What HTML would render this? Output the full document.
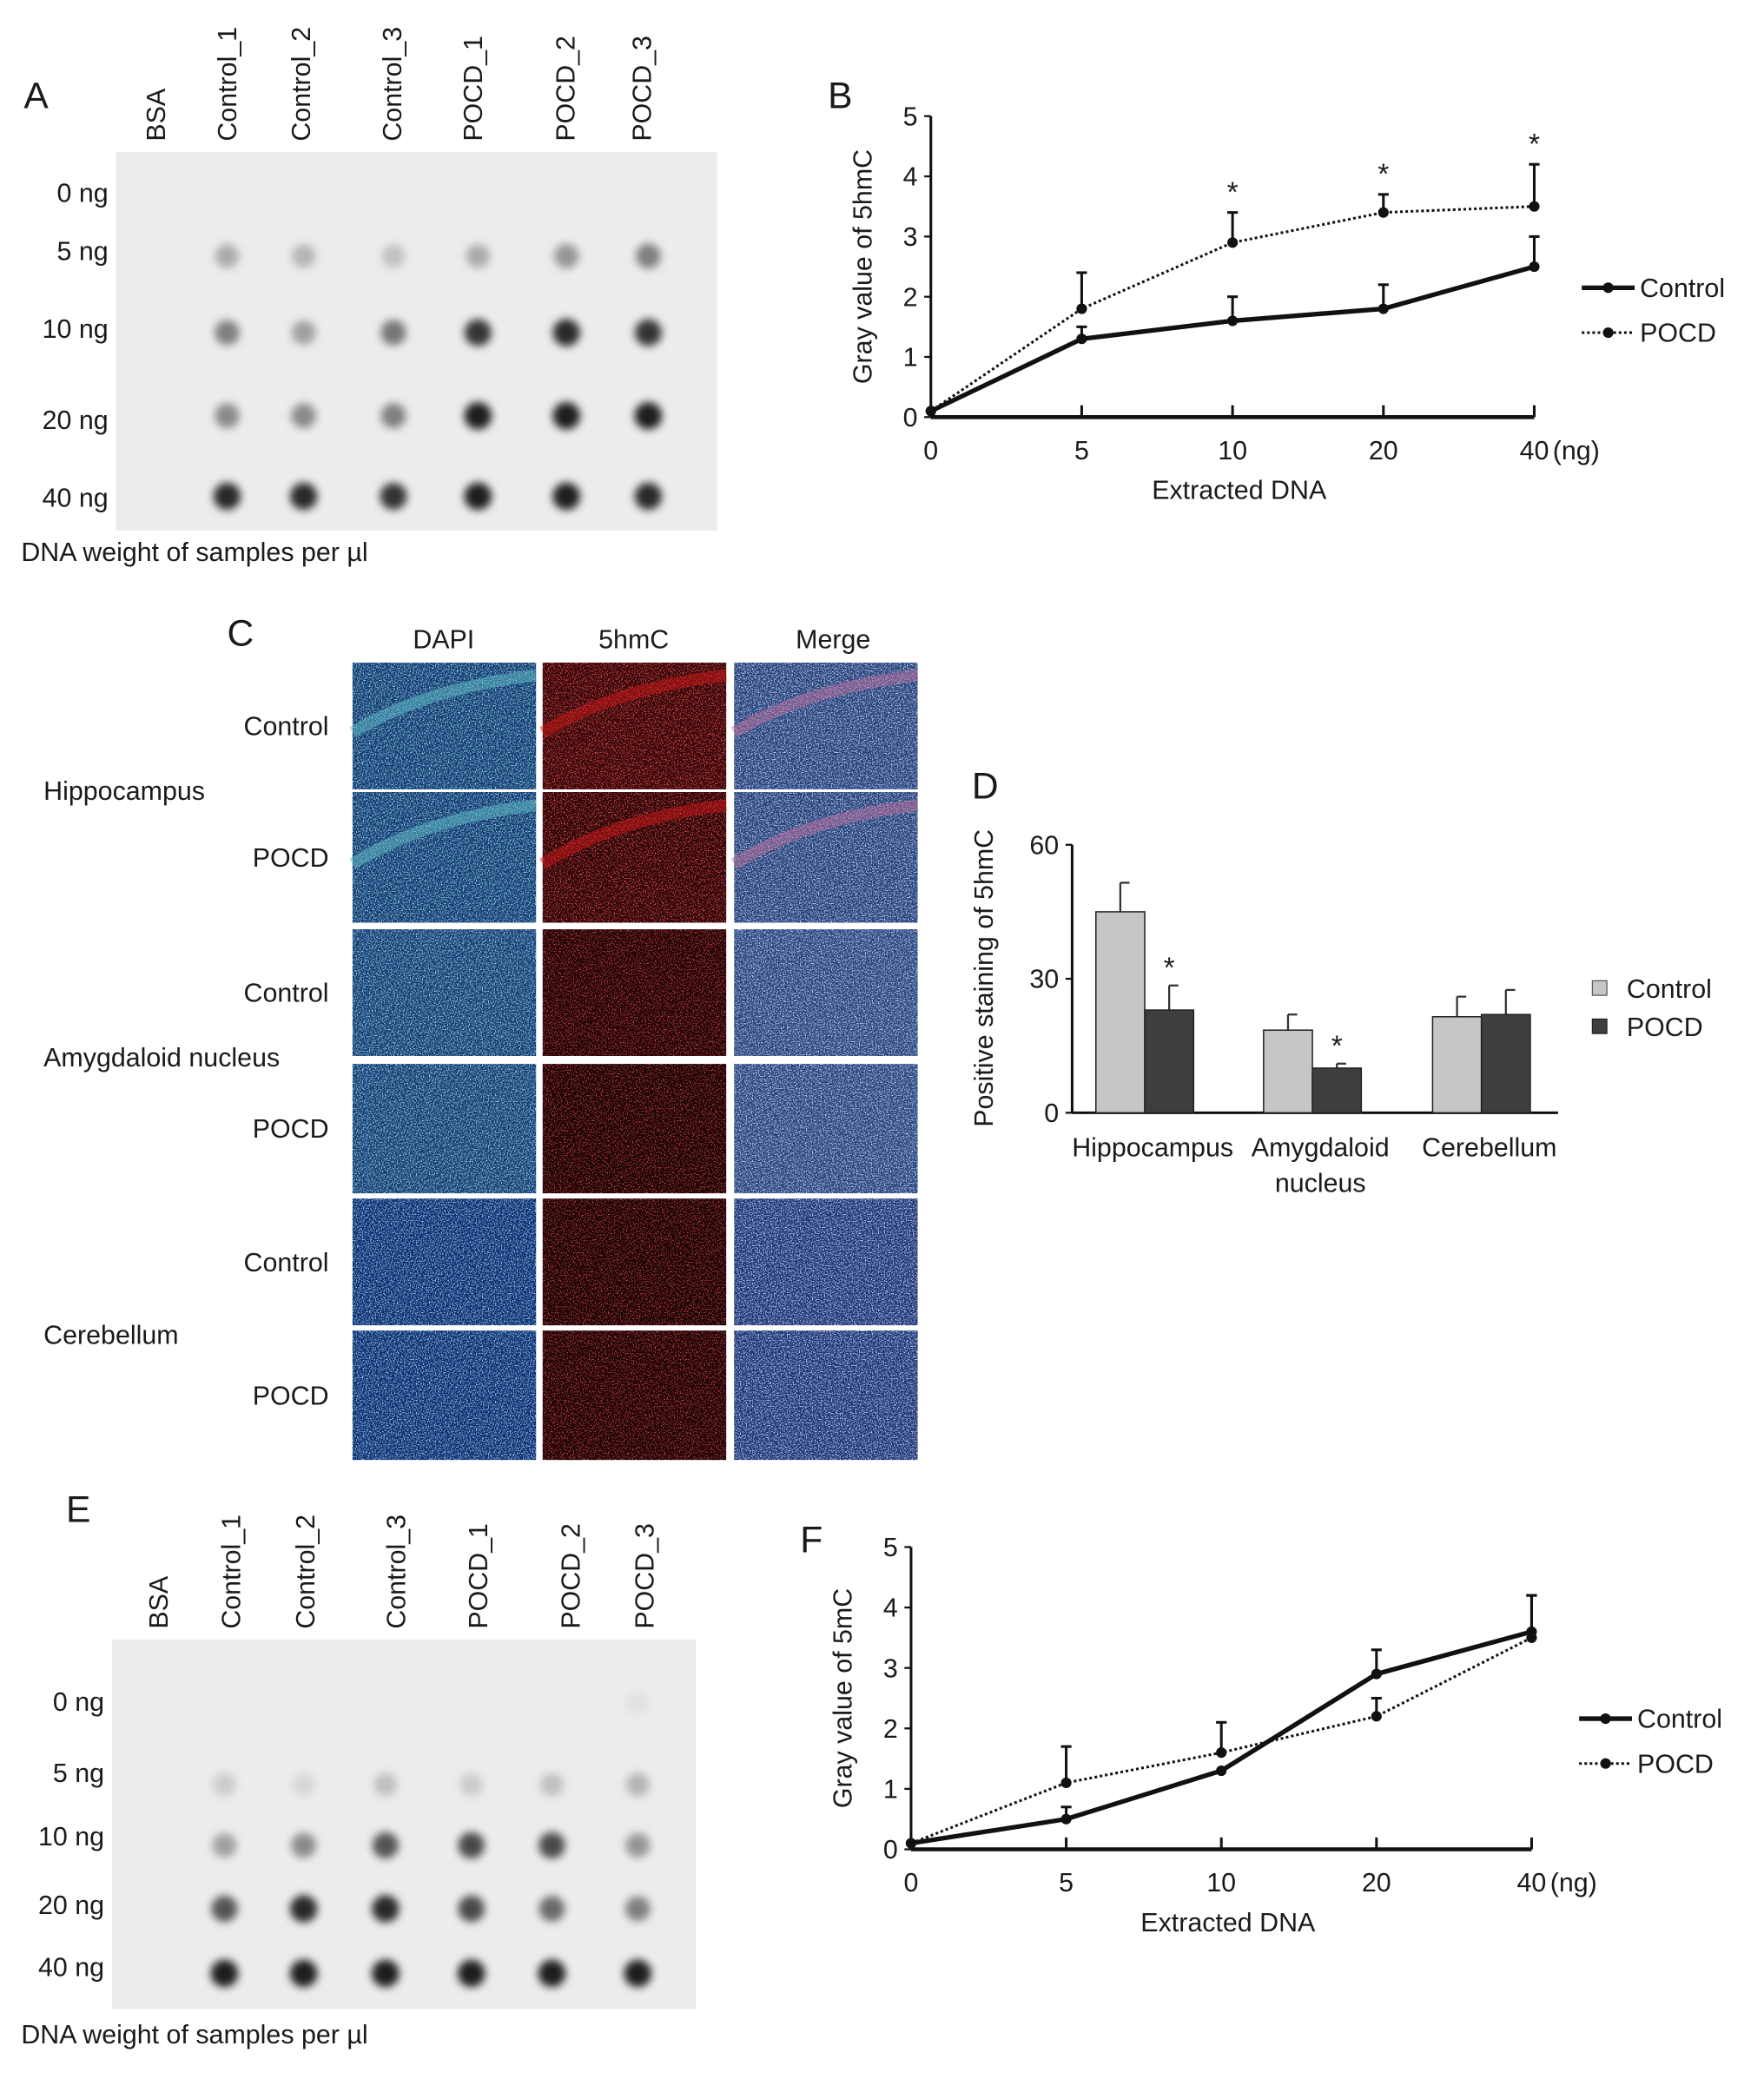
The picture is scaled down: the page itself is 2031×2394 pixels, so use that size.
<!DOCTYPE html>
<html><head><meta charset="utf-8"><style>
html,body{margin:0;padding:0;background:#fff;}
svg{display:block;font-family:"Liberation Sans",Arial,sans-serif;}
</style></head><body>
<svg id="fig" width="2031" height="2394" viewBox="0 0 1336 1575" preserveAspectRatio="none" xmlns="http://www.w3.org/2000/svg">
<defs>
<filter id="blur" x="-1" y="-1" width="3" height="3"><feGaussianBlur stdDeviation="3.2"/></filter>
<filter id="speckCyan" x="0" y="0" width="1" height="1"><feTurbulence type="fractalNoise" baseFrequency="1.1" numOctaves="2" seed="3"/><feColorMatrix type="matrix" values="0 0 0 0 0.35  0 0 0 0 0.75  0 0 0 0 0.95  6 0 0 0 -3.0"/></filter>
<filter id="speckRed" x="0" y="0" width="1" height="1"><feTurbulence type="fractalNoise" baseFrequency="1.1" numOctaves="2" seed="7"/><feColorMatrix type="matrix" values="0 0 0 0 0.85  0 0 0 0 0.08  0 0 0 0 0.1  6 0 0 0 -3.1"/></filter>
<filter id="speckWhite" x="0" y="0" width="1" height="1"><feTurbulence type="fractalNoise" baseFrequency="1.1" numOctaves="2" seed="11"/><feColorMatrix type="matrix" values="0 0 0 0 0.7  0 0 0 0 0.75  0 0 0 0 0.95  6 0 0 0 -3.0"/></filter>
</defs>
<g id="root"></g>
</svg>
<script>
// ---------- data ----------
const blotCols = ["BSA","Control_1","Control_2","Control_3","POCD_1","POCD_2","POCD_3"];
const blotRows = ["0 ng","5 ng","10 ng","20 ng","40 ng"];
const blotA = [[0,0,0,0,0,0],[0.3,0.25,0.2,0.3,0.4,0.5],[0.5,0.35,0.55,0.85,0.9,0.85],[0.45,0.45,0.5,0.95,0.95,0.95],[0.9,0.9,0.85,0.95,0.95,0.9]];
const blotE = [[0,0,0,0,0,0.05],[0.15,0.1,0.2,0.15,0.2,0.25],[0.35,0.45,0.7,0.75,0.75,0.4],[0.7,0.9,0.9,0.75,0.6,0.5],[0.95,0.95,0.95,0.95,0.95,0.95]];
const xCats = ["0","5","10","20","40"];
const bControl = [0.1,1.3,1.6,1.8,2.5];
const bControlErr = [0,0.2,0.4,0.4,0.5];
const bPOCD = [0.1,1.8,2.9,3.4,3.5];
const bPOCDErr = [0,0.6,0.5,0.3,0.7];
const bSig = [false,false,true,true,true];
const fControl = [0.1,0.5,1.3,2.9,3.6];
const fControlErr = [0,0.2,0,0.4,0.6];
const fPOCD = [0.1,1.1,1.6,2.2,3.5];
const fPOCDErr = [0,0.6,0.5,0.3,0.7];
const yTicks = [0,1,2,3,4,5];
const dCats = ["Hippocampus","Amygdaloid|nucleus","Cerebellum"];
const dControl = [45,18.5,21.5];
const dControlErr = [6.5,3.5,4.5];
const dPOCD = [23,10,22];
const dPOCDErr = [5.5,1,5.5];
const dSig = [true,true,false];
const dTicks = [0,30,60];

const NS="http://www.w3.org/2000/svg";
const root=document.getElementById('root');
function el(tag,attrs,parent){const e=document.createElementNS(NS,tag);for(const k in attrs)e.setAttribute(k,attrs[k]);(parent||root).appendChild(e);return e;}
function txt(s,x,y,size,anchor,parent,extra){const t=el('text',Object.assign({x:x,y:y,'font-size':size,'text-anchor':anchor||'start',fill:'#1a1a1a'},extra||{}),parent);t.textContent=s;return t;}

// ---------- blots ----------
function blot(name,vals,lbl,lx,ly,rect,colX,rowY,dotX,dotY,footY){
  const g=el('g',{});
  
  
  const L=txt(lbl,lx,ly,28,'start',g);
  
  
  el('rect',{x:rect[0],y:rect[1],width:rect[2],height:rect[3],fill:'#ececec'},g);
  blotCols.forEach((c,i)=>{const t=txt(c,0,0,20,'start',g,{transform:`translate(${colX[i]+7},${rect[1]-8}) rotate(-90)`});
    
    });
  blotRows.forEach((r,i)=>{const t=txt(r,rect[0]-6,rowY[i]+7,20,'end',g);
    
    });
  vals.forEach((row,ri)=>row.forEach((v,ci)=>{if(v<=0)return;const c=el('circle',{cx:dotX[ci],cy:dotY[ri],r:8.5+v*2,fill:'#000','fill-opacity':v*0.92,filter:'url(#blur)'},g);
    
    }));
  const f=txt('DNA weight of samples per µl',16,footY,20,'start',g);
  
  
}
blot('blot-a',blotA,'A',18,82,[88,115,455,287],[118,172,228,297,358,428,486],[146,190,249,318,377],[172,230,298,362,429,491],[146,194,252,315,376],425);
blot('blot-e',blotE,'E',50,1153,[85,1242,442,280],[120,175,231,300,362,432,488],[1289,1343,1391,1443,1490],[170,230,292,357,418,483],[1290,1352,1398,1446,1495],1548);

// ---------- line charts ----------
function lineChart(name,lbl,lblPos,x0,x1,y0,y5,ylab,ctrl,ctrlE,pocd,pocdE,sig,legY){
  const g=el('g',{});
  
  
  const L=txt(lbl,lblPos[0],lblPos[1],28,'start',g);
  
  
  const xs=i=>x0+(x1-x0)*i/(xCats.length-1);
  const ys=v=>y0-(y0-y5)*v/5;
  el('line',{x1:x0,y1:y5,x2:x0,y2:y0,stroke:'#111','stroke-width':2},g);
  el('line',{x1:x0,y1:y0,x2:x1,y2:y0,stroke:'#111','stroke-width':3},g);
  yTicks.forEach(t=>{el('line',{x1:x0-5,y1:ys(t),x2:x0,y2:ys(t),stroke:'#111','stroke-width':1.5},g);
    const tt=txt(String(t),x0-10,ys(t)+7,20,'end',g);
    
    });
  xCats.forEach((c,i)=>{el('line',{x1:xs(i),y1:y0-9,x2:xs(i),y2:y0,stroke:'#111','stroke-width':2},g);
    const tt=txt(c,xs(i),y0+32,20,'middle',g);
    
    });
  txt('(ng)',xs(4)+14,y0+32,20,'start',g);
  const xt=txt('Extracted DNA',(x0+x1)/2+5,y0+62,20,'middle',g);
  
  
  const yt=txt(ylab,0,0,20,'middle',g,{transform:`translate(${x0-45},${(y0+y5)/2}) rotate(-90)`});
  
  
  function series(vals,errs,dash,w,nm){
    vals.forEach((v,i)=>{if(errs[i]>0){el('line',{x1:xs(i),y1:ys(v),x2:xs(i),y2:ys(v+errs[i]),stroke:'#111','stroke-width':2},g);
      el('line',{x1:xs(i)-4,y1:ys(v+errs[i]),x2:xs(i)+4,y2:ys(v+errs[i]),stroke:'#111','stroke-width':2},g);}});
    const p=el('polyline',{points:vals.map((v,i)=>xs(i)+','+ys(v)).join(' '),fill:'none',stroke:'#111','stroke-width':w,'stroke-dasharray':dash},g);
    
    
    vals.forEach((v,i)=>{const c=el('circle',{cx:xs(i),cy:ys(v),r:4,fill:'#111'},g);
      
      });
  }
  series(pocd,pocdE,'2 2',2,'pocd-line');
  series(ctrl,ctrlE,'none',3.5,'control-line');
  sig.forEach((s,i)=>{if(s)txt('*',xs(i),ys(pocd[i]+pocdE[i])-8,22,'middle',g);});
  const lx=x1+36;
  const l1=el('g',{},g);
  
  
  el('line',{x1:lx,y1:legY,x2:lx+40,y2:legY,stroke:'#111','stroke-width':3.5},l1);
  el('circle',{cx:lx+20,cy:legY,r:4,fill:'#111'},l1);
  txt('Control',lx+44,legY+7,20,'start',l1);
  const l2=el('g',{},g);
  
  
  el('line',{x1:lx,y1:legY+34,x2:lx+40,y2:legY+34,stroke:'#111','stroke-width':2,'stroke-dasharray':'2 2'},l2);
  el('circle',{cx:lx+20,cy:legY+34,r:4,fill:'#111'},l2);
  txt('POCD',lx+44,legY+41,20,'start',l2);
}
lineChart('chart-b-5hmc','B',[627,82],705,1162,316,88,'Gray value of 5hmC',bControl,bControlErr,bPOCD,bPOCDErr,bSig,218);
lineChart('chart-f-5mc','F',[606,1176],690,1160,1401,1172,'Gray value of 5mC',fControl,fControlErr,fPOCD,fPOCDErr,[false,false,false,false,false],1302);

// ---------- panel C micrographs ----------
(function(){
  const g=el('g',{});
  
  
  txt('C',172,489,28,'start',g);
  const heads=['DAPI','5hmC','Merge'],hx=[336,480,631];
  heads.forEach((h,i)=>{const t=txt(h,hx[i],491,20,'middle',g);
    
    });
  const cx=[267,411,556],cw=139;
  const rows=[[502,96],[600,99],[704,96],[806,98],[908,96],[1008,98]];
  const rowLbl=['Control','POCD','Control','POCD','Control','POCD'];
  const bases=[['#143a6e','#2e0505','#24407a'],['#143a6e','#220303','#24407a'],['#183c70','#190202','#26447c'],['#183c70','#120101','#26447c'],['#0f2c6e','#120101','#1b3474'],['#0f2c6e','#150202','#1b3474']];
  const specks=['url(#speckCyan)','url(#speckRed)','url(#speckWhite)'];
  rows.forEach((r,ri)=>{
    cx.forEach((x,ci)=>{
      const im=el('g',{},g);
      
      
      el('rect',{x:x,y:r[0],width:cw,height:r[1],fill:bases[ri][ci]},im);
      el('rect',{x:x,y:r[0],width:cw,height:r[1],filter:specks[ci],opacity:ri<2&&ci==1?1:0.85},im);
      if(ri<2){el('path',{d:`M${x} ${r[0]+r[1]*0.55} Q${x+cw*0.4} ${r[0]+r[1]*0.2} ${x+cw} ${r[0]+r[1]*0.1}`,fill:'none',stroke:ci==1?'#d01818':(ci==0?'#5fc0c8':'#c070a0'),'stroke-width':9,opacity:0.5},im);}
    });
    const t=txt(rowLbl[ri],249,r[0]+r[1]/2+7,20,'end',g);
    
    
  });
  [['Hippocampus',606],['Amygdaloid nucleus',808],['Cerebellum',1018]].forEach(a=>{const t=txt(a[0],33,a[1],20,'start',g);
    
    });
})();

// ---------- panel D bars ----------
(function(){
  const g=el('g',{});
  
  
  txt('D',736,605,28,'start',g);
  const x0=812,y0=843,yTop=640,xEnd=1180;
  const ys=v=>y0-(y0-yTop)*v/60;
  const gx=[830,957,1085],bw=37;
  el('line',{x1:x0,y1:yTop,x2:x0,y2:y0,stroke:'#111','stroke-width':2},g);
  el('line',{x1:x0,y1:y0,x2:xEnd,y2:y0,stroke:'#111','stroke-width':2},g);
  dTicks.forEach(t=>{el('line',{x1:x0-5,y1:ys(t),x2:x0,y2:ys(t),stroke:'#111','stroke-width':1.5},g);
    const tt=txt(String(t),x0-10,ys(t)+7,20,'end',g);
    
    });
  const yt=txt('Positive staining of 5hmC',0,0,20,'middle',g,{transform:`translate(752,741) rotate(-90)`});
  
  
  function bar(x,v,e,fill,nm){
    el('line',{x1:x+bw/2,y1:ys(v),x2:x+bw/2,y2:ys(v+e),stroke:'#333','stroke-width':1.5},g);
    el('line',{x1:x+bw/2,y1:ys(v+e),x2:x+bw/2+7,y2:ys(v+e),stroke:'#333','stroke-width':1.5},g);
    const r=el('rect',{x:x,y:ys(v),width:bw,height:y0-ys(v),fill:fill,stroke:'#222','stroke-width':1},g);
    
    
  }
  dCats.forEach((c,i)=>{
    bar(gx[i],dControl[i],dControlErr[i],'#c6c6c6','bar-control');
    bar(gx[i]+bw,dPOCD[i],dPOCDErr[i],'#3e3e3e','bar-pocd');
    if(dSig[i])txt('*',gx[i]+bw*1.5,ys(dPOCD[i]+dPOCDErr[i])-6,22,'middle',g);
    const parts=c.split('|');
    parts.forEach((p,k)=>{const t=txt(p,gx[i]+bw+6,876+k*27,20,'middle',g);
      
      });
  });
  const l1=el('g',{},g);
  
  
  el('rect',{x:1206,y:743,width:11,height:11,fill:'#c6c6c6',stroke:'#555','stroke-width':0.8},l1);
  txt('Control',1232,756,20,'start',l1);
  const l2=el('g',{},g);
  
  
  el('rect',{x:1206,y:772,width:11,height:11,fill:'#3e3e3e',stroke:'#222','stroke-width':0.8},l2);
  txt('POCD',1232,785,20,'start',l2);
})();
</script>
</body></html>
